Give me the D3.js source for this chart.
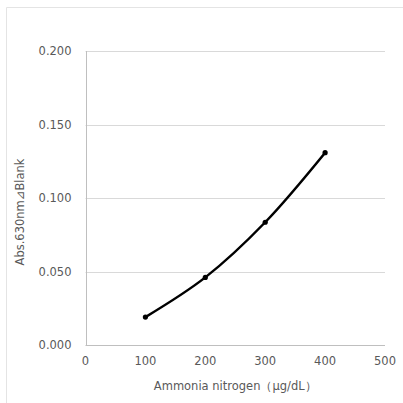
<!DOCTYPE html>
<html>
<head>
<meta charset="utf-8">
<script src="https://cdn.jsdelivr.net/npm/d3@7"></script>
<style>
  body { margin: 0; background: #fff; }
  svg text { font-family: "DejaVu Sans", Verdana, sans-serif; fill: #595959; }
</style>
</head>
<body>
<div id="chart"></div>
<script>
//// ============ DATA ============ ////
var concentrations = [100, 200, 300, 400];
var absorbances = [0.019, 0.046, 0.0835, 0.1308];
var xTicks = [0, 100, 200, 300, 400, 500];
var yTicks = [0, 0.05, 0.1, 0.15, 0.2];
var xTitle = "Ammonia nitrogen\uFF08\u00B5g/dL\uFF09";
var yTitle = "Abs.630nm\u22BFBlank";

//// ============ LAYOUT ============ ////
var width = 403, height = 403;
var plotLeft = 85.5, plotRight = 385, plotTop = 51, plotBottom = 345;

var svg = d3.select("#chart").append("svg")
    .attr("width", width)
    .attr("height", height);

// outer chart frame (cropped)
svg.append("path")
    .attr("d", "M6.5," + height + "V7.5H" + width)
    .attr("fill", "none")
    .attr("stroke", "#e4e4e4")
    .attr("stroke-width", 1);

var x = d3.scaleLinear().domain([0, 500]).range([plotLeft, plotRight]);
var y = d3.scaleLinear().domain([0, 0.2]).range([plotBottom, plotTop]);

// gridlines
svg.append("g")
    .selectAll("line")
    .data(yTicks.slice(1))
    .enter().append("line")
    .attr("x1", plotLeft)
    .attr("x2", plotRight)
    .attr("y1", function(d) { return Math.round(y(d)) + 0.5; })
    .attr("y2", function(d) { return Math.round(y(d)) + 0.5; })
    .attr("stroke", "#d9d9d9")
    .attr("stroke-width", 1);

// axis lines
svg.append("line")
    .attr("x1", Math.round(plotLeft) + 0.5).attr("x2", Math.round(plotLeft) + 0.5)
    .attr("y1", plotTop).attr("y2", plotBottom)
    .attr("stroke", "#bfbfbf");
svg.append("line")
    .attr("x1", plotLeft).attr("x2", plotRight)
    .attr("y1", plotBottom + 0.5).attr("y2", plotBottom + 0.5)
    .attr("stroke", "#bfbfbf");

// tick labels
svg.append("g")
    .selectAll("text")
    .data(yTicks)
    .enter().append("text")
    .attr("x", plotLeft - 14)
    .attr("y", function(d) { return y(d); })
    .attr("dy", "0.35em")
    .attr("text-anchor", "end")
    .style("font-size", "11.5px")
    .text(function(d) { return d3.format(".3f")(d); });

svg.append("g")
    .selectAll("text")
    .data(xTicks)
    .enter().append("text")
    .attr("x", function(d) { return x(d); })
    .attr("y", plotBottom + 20)
    .attr("text-anchor", "middle")
    .style("font-size", "11.5px")
    .text(function(d) { return d; });

// axis titles
svg.append("text")
    .attr("x", (plotLeft + plotRight) / 2)
    .attr("y", plotBottom + 45)
    .attr("text-anchor", "middle")
    .style("font-size", "11.5px")
    .text(xTitle);

svg.append("text")
    .attr("transform", "translate(24," + ((plotTop + plotBottom) / 2 + 14) + ") rotate(-90)")
    .attr("text-anchor", "middle")
    .style("font-size", "11.5px")
    .text(yTitle);

//// ============ SERIES ============ ////
var points = concentrations.map(function(c, i) { return [c, absorbances[i]]; });

var line = d3.line()
    .x(function(d) { return x(d[0]); })
    .y(function(d) { return y(d[1]); })
    .curve(d3.curveCatmullRom.alpha(0.5));

svg.append("path")
    .datum(points)
    .attr("d", line)
    .attr("fill", "none")
    .attr("stroke", "#000")
    .attr("stroke-width", 2.5)
    .attr("stroke-linecap", "round");

svg.append("g")
    .selectAll("circle")
    .data(points)
    .enter().append("circle")
    .attr("cx", function(d) { return x(d[0]); })
    .attr("cy", function(d) { return y(d[1]); })
    .attr("r", 2.6)
    .attr("fill", "#000");
</script>
</body>
</html>
